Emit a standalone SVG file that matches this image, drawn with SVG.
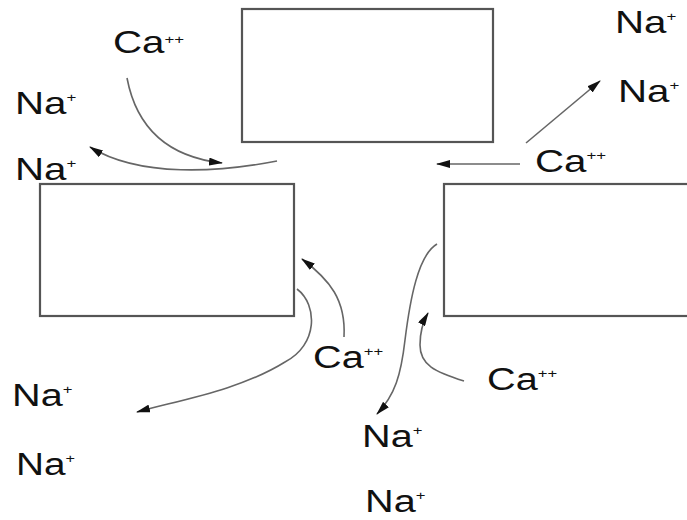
<svg xmlns="http://www.w3.org/2000/svg" width="687" height="520" viewBox="0 0 687 520">
<style>
.box{fill:#fff;stroke:#555;stroke-width:2.2}
.lbl{font-family:"Liberation Sans",Arial,sans-serif;font-size:31px;fill:#111}
.sup{font-size:13px}
.con{fill:none;stroke:#666;stroke-width:1.6}
</style>
<defs>
<marker id="ah" viewBox="0 0 14 8" refX="13" refY="4" markerWidth="14" markerHeight="8" markerUnits="userSpaceOnUse" orient="auto">
<path d="M0,0 L14,4 L0,8 Z" fill="#111"/>
</marker>
</defs>
<rect width="687" height="520" fill="#fff"/>
<g id="box-top"><rect class="box" x="242" y="9" width="251" height="133"/></g>
<g id="box-left"><rect class="box" x="40" y="184" width="254" height="132"/></g>
<g id="box-right"><rect class="box" x="444" y="184" width="250" height="132"/></g>

<g id="connectors">
<path class="con" marker-end="url(#ah)" d="M127,78 C135,120 160,156 222,163"/>
<path class="con" marker-end="url(#ah)" d="M277,161 C220,172 140,178 90,147"/>
<path class="con" marker-end="url(#ah)" d="M526,143 L600,81"/>
<path class="con" marker-end="url(#ah)" d="M520,164 L437,164"/>
<path class="con" marker-end="url(#ah)" d="M344,337 C346,300 330,280 302,259"/>
<path class="con" marker-end="url(#ah)" d="M297,289 C318,305 318,345 285,362 C240,390 180,400 137,412"/>
<path class="con" marker-end="url(#ah)" d="M437,244 C418,255 410,300 405,340 C401,375 395,395 377,414"/>
<path class="con" marker-end="url(#ah)" d="M464,381 C435,372 420,365 420,345 C420,330 424,320 428,313"/>
</g>

<g id="labels">
<g id="t-ca1"><text class="lbl" transform="translate(113,53) scale(1.3,1)">Ca<tspan class="sup" dy="-9">++</tspan></text></g>
<g id="t-na1"><text class="lbl" transform="translate(15,114) scale(1.3,1)">Na<tspan class="sup" dy="-12">+</tspan></text></g>
<g id="t-na2"><text class="lbl" transform="translate(15,180) scale(1.3,1)">Na<tspan class="sup" dy="-12">+</tspan></text></g>
<g id="t-na3"><text class="lbl" transform="translate(615,33) scale(1.3,1)">Na<tspan class="sup" dy="-12">+</tspan></text></g>
<g id="t-na4"><text class="lbl" transform="translate(618,102) scale(1.3,1)">Na<tspan class="sup" dy="-12">+</tspan></text></g>
<g id="t-ca2"><text class="lbl" transform="translate(535,172) scale(1.3,1)">Ca<tspan class="sup" dy="-12">++</tspan></text></g>
<g id="t-ca3"><text class="lbl" transform="translate(313,368) scale(1.28,1)">Ca<tspan class="sup" dy="-12">++</tspan></text></g>
<g id="t-ca4"><text class="lbl" transform="translate(487,390) scale(1.28,1)">Ca<tspan class="sup" dy="-12">++</tspan></text></g>
<g id="t-na5"><text class="lbl" transform="translate(362,447) scale(1.28,1)">Na<tspan class="sup" dy="-12">+</tspan></text></g>
<g id="t-na6"><text class="lbl" transform="translate(365,512) scale(1.28,1)" font-size="30">Na<tspan class="sup" dy="-12">+</tspan></text></g>
<g id="t-na7"><text class="lbl" transform="translate(12,406) scale(1.28,1)">Na<tspan class="sup" dy="-12">+</tspan></text></g>
<g id="t-na8"><text class="lbl" transform="translate(16,475) scale(1.25,1)">Na<tspan class="sup" dy="-12">+</tspan></text></g>
</g>
</svg>
